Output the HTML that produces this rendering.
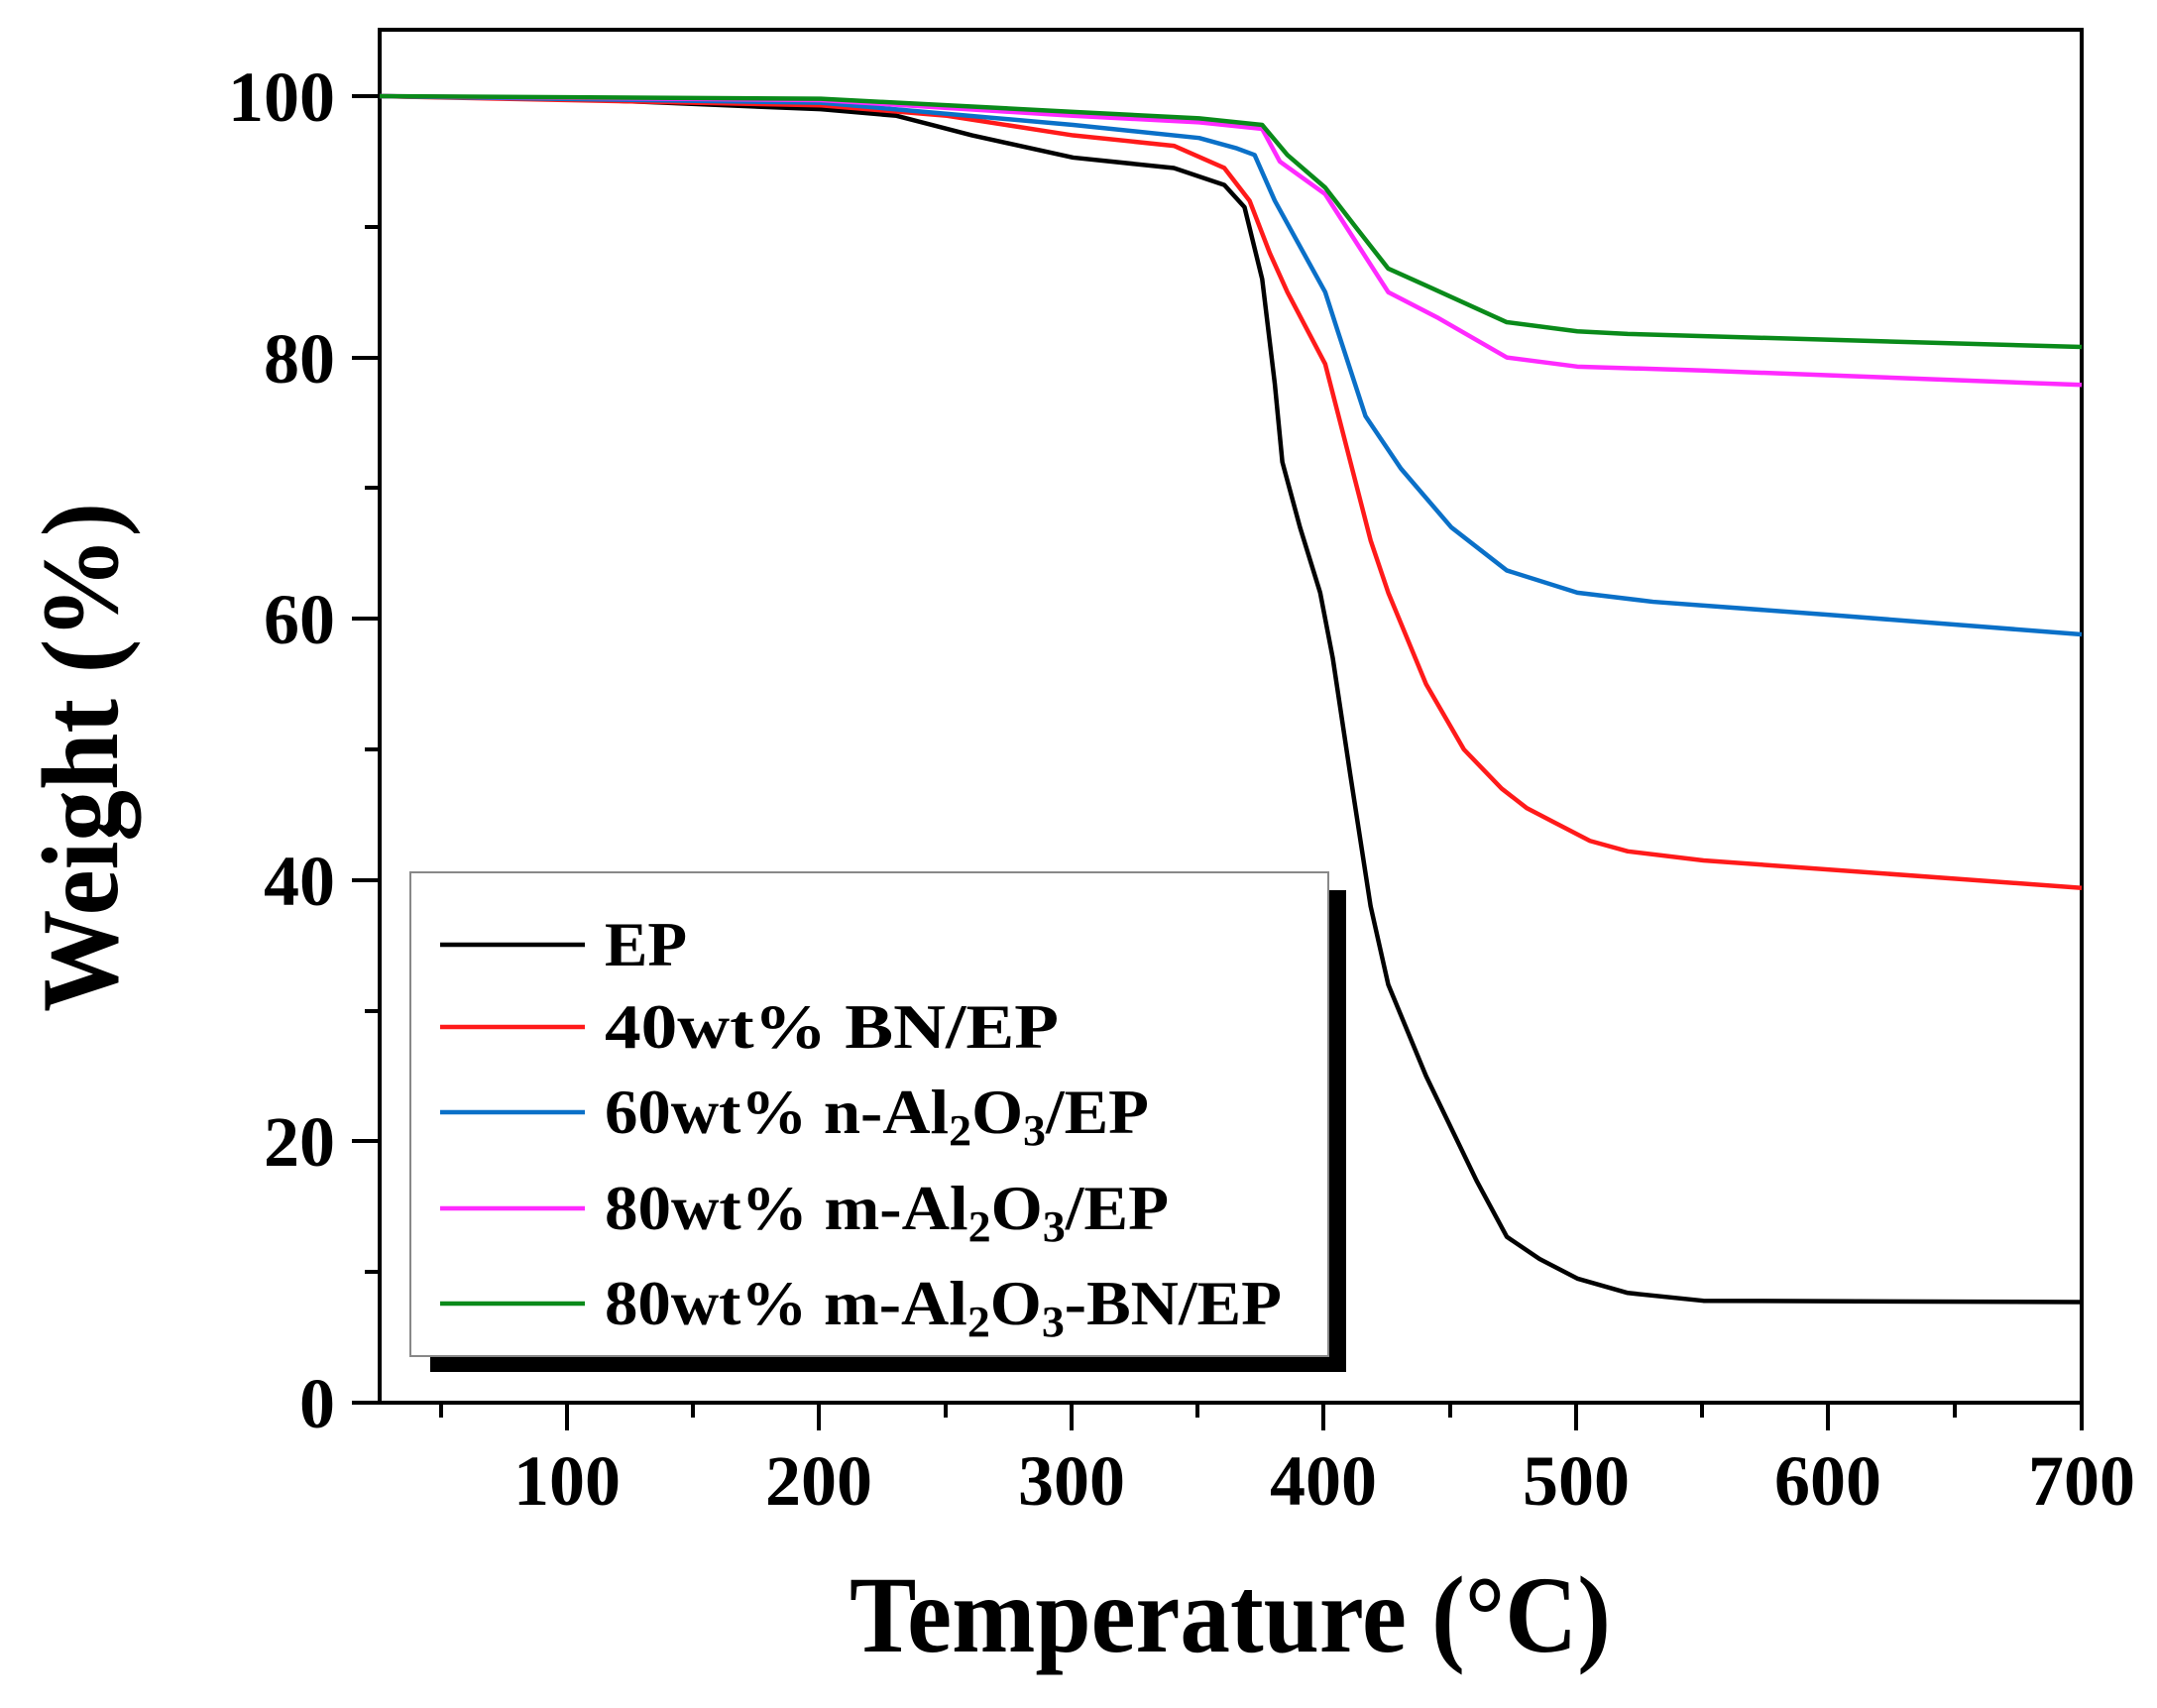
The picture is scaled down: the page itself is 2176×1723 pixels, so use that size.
<!DOCTYPE html>
<html><head><meta charset="utf-8"><style>
html,body{margin:0;padding:0;background:#fff}
svg{display:block}
text{font-family:"Liberation Serif",serif;font-weight:bold;fill:#000}
</style></head><body>
<svg width="2176" height="1723" viewBox="0 0 2176 1723">
<rect width="2176" height="1723" fill="#fff"/>
<rect x="383" y="30" width="1717" height="1385" fill="none" stroke="#000" stroke-width="4"/>
<g stroke="#000" stroke-width="4">
<line x1="572" y1="1415" x2="572" y2="1443"/><line x1="826" y1="1415" x2="826" y2="1443"/>
<line x1="1081" y1="1415" x2="1081" y2="1443"/><line x1="1335" y1="1415" x2="1335" y2="1443"/>
<line x1="1590" y1="1415" x2="1590" y2="1443"/><line x1="1844" y1="1415" x2="1844" y2="1443"/>
<line x1="2100" y1="1415" x2="2100" y2="1443"/>
<line x1="445" y1="1415" x2="445" y2="1430"/><line x1="699" y1="1415" x2="699" y2="1430"/>
<line x1="954" y1="1415" x2="954" y2="1430"/><line x1="1208" y1="1415" x2="1208" y2="1430"/>
<line x1="1463" y1="1415" x2="1463" y2="1430"/><line x1="1717" y1="1415" x2="1717" y2="1430"/>
<line x1="1972" y1="1415" x2="1972" y2="1430"/>
<line x1="355" y1="1415" x2="383" y2="1415"/><line x1="355" y1="1151" x2="383" y2="1151"/>
<line x1="355" y1="888" x2="383" y2="888"/><line x1="355" y1="624" x2="383" y2="624"/>
<line x1="355" y1="361" x2="383" y2="361"/><line x1="355" y1="97" x2="383" y2="97"/>
<line x1="368" y1="1283" x2="383" y2="1283"/><line x1="368" y1="1020" x2="383" y2="1020"/>
<line x1="368" y1="756" x2="383" y2="756"/><line x1="368" y1="492" x2="383" y2="492"/>
<line x1="368" y1="229" x2="383" y2="229"/>
</g>
<g font-size="72" text-anchor="end">
<text x="338" y="1440">0</text><text x="338" y="1176">20</text><text x="338" y="913">40</text>
<text x="338" y="649">60</text><text x="338" y="386">80</text><text x="338" y="122">100</text>
</g>
<g font-size="72" text-anchor="middle">
<text x="572" y="1518">100</text><text x="826" y="1518">200</text><text x="1081" y="1518">300</text>
<text x="1335" y="1518">400</text><text x="1590" y="1518">500</text><text x="1844" y="1518">600</text>
<text x="2100" y="1518">700</text>
</g>
<text x="857" y="1666" font-size="110" textLength="768" lengthAdjust="spacingAndGlyphs">Temperature (°C)</text>
<text transform="translate(118,1021) rotate(-90)" font-size="110" textLength="514" lengthAdjust="spacingAndGlyphs">Weight (%)</text>
<g transform="translate(319.4,1415) scale(2.5437,-13.18)" fill="none" stroke-width="4.5" stroke-linejoin="round">
<polyline vector-effect="non-scaling-stroke" stroke="#000" points="25,100 100,99.8 200,99 230,98.5 260,97 300,95.3 340,94.5 360,93.2 368,91.5 375,86 380,78 383,72 390,67 398,62 403,57 410,48 418,38 425,32 440,25 460,17 472,12.7 485,11 500,9.5 520,8.4 550,7.8 700,7.7"/>
<polyline vector-effect="non-scaling-stroke" stroke="#ff1a1a" points="25,100 200,99.3 250,98.5 300,97 340,96.2 360,94.5 370,92 378,88 385,85 400,79.5 410,72 418,66 425,62 440,55 455,50 470,47 480,45.5 490,44.5 505,43 520,42.2 550,41.5 700,39.4"/>
<polyline vector-effect="non-scaling-stroke" stroke="#0a70c8" points="25,100 200,99.5 300,97.8 350,96.8 365,96 372,95.5 380,92 400,85 405,82 416,75.5 430,71.5 450,67 472,63.7 500,62 530,61.3 600,60.3 700,58.8"/>
<polyline vector-effect="non-scaling-stroke" stroke="#ff2aff" points="25,100 200,99.7 300,98.5 350,98 375,97.5 382,95 400,92.5 410,89.5 425,85 445,83 472,80 500,79.3 550,79 700,77.9"/>
<polyline vector-effect="non-scaling-stroke" stroke="#0a8a1a" points="25,100 200,99.8 300,98.8 350,98.3 375,97.8 385,95.5 400,93 412,90 425,86.8 440,85.5 472,82.7 500,82 520,81.8 700,80.8"/>
</g>
<rect x="434" y="898" width="924" height="486" fill="#000"/>
<rect x="414" y="880" width="926" height="488" fill="#fff" stroke="#888" stroke-width="2"/>
<g stroke-width="4.5">
<line x1="444" y1="953" x2="590" y2="953" stroke="#000"/>
<line x1="444" y1="1036" x2="590" y2="1036" stroke="#ff1a1a"/>
<line x1="444" y1="1122" x2="590" y2="1122" stroke="#0a70c8"/>
<line x1="444" y1="1219" x2="590" y2="1219" stroke="#ff2aff"/>
<line x1="444" y1="1315" x2="590" y2="1315" stroke="#0a8a1a"/>
</g>
<g font-size="64">
<text x="610" y="974" textLength="83" lengthAdjust="spacingAndGlyphs">EP</text>
<text x="610" y="1057" textLength="458" lengthAdjust="spacingAndGlyphs">40wt% BN/EP</text>
<text x="610" y="1143" textLength="549" lengthAdjust="spacingAndGlyphs">60wt% n-Al<tspan font-size="44" dy="12">2</tspan><tspan dy="-12">O</tspan><tspan font-size="44" dy="12">3</tspan><tspan dy="-12">/EP</tspan></text>
<text x="610" y="1240" textLength="569" lengthAdjust="spacingAndGlyphs">80wt% m-Al<tspan font-size="44" dy="12">2</tspan><tspan dy="-12">O</tspan><tspan font-size="44" dy="12">3</tspan><tspan dy="-12">/EP</tspan></text>
<text x="610" y="1336" textLength="683" lengthAdjust="spacingAndGlyphs">80wt% m-Al<tspan font-size="44" dy="12">2</tspan><tspan dy="-12">O</tspan><tspan font-size="44" dy="12">3</tspan><tspan dy="-12">-BN/EP</tspan></text>
</g>
</svg>
</body></html>
